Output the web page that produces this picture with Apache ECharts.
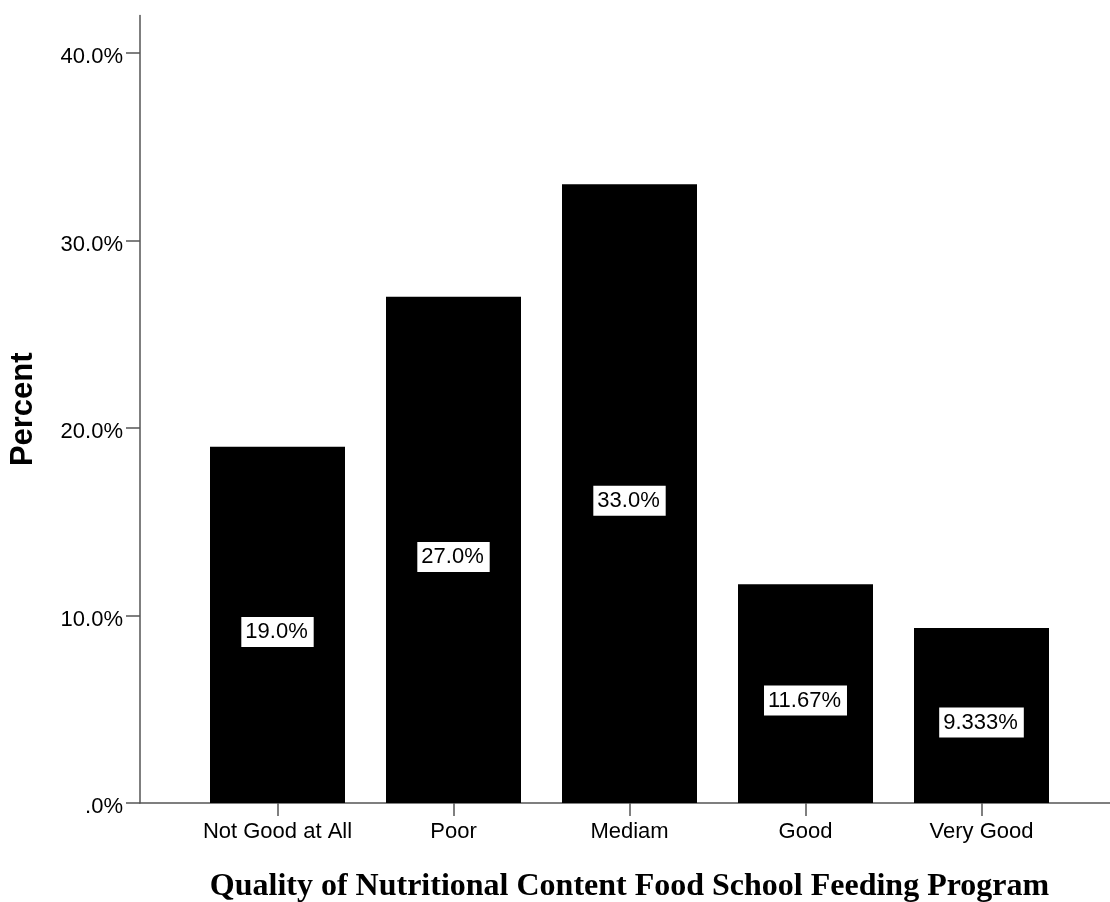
<!DOCTYPE html>
<html><head><meta charset="utf-8">
<script src="https://cdn.jsdelivr.net/npm/echarts@6/dist/echarts.min.js"></script>
<style>html,body{margin:0;padding:0;background:#fff}#c{width:1110px;height:902px}</style>
</head><body><div id="c"></div>
<script>
const categories = ['Not Good at All', 'Poor', 'Mediam', 'Good', 'Very Good'];
const percents = [19.0, 27.0, 33.0, 11.67, 9.333];
const barLabels = ['19.0%', '27.0%', '33.0%', '11.67%', '9.333%'];
const yTicks = [0, 10, 20, 30, 40];
const yTickLabels = ['.0%', '10.0%', '20.0%', '30.0%', '40.0%'];
const xTitle = 'Quality of Nutritional Content Food School Feeding Program';
const yTitle = 'Percent';

const axisColor = '#555';
const font = '"Liberation Sans", Arial, sans-serif';
const chart = echarts.init(document.getElementById('c'), null, {renderer: 'canvas'});
chart.setOption({
  animation: false,
  backgroundColor: '#fff',
  grid: [
    {left: 140, right: 0, top: 15.5, bottom: 99, outerBoundsMode: 'none', containLabel: false},
    {left: 189.5, width: 880, top: 15.5, bottom: 99, outerBoundsMode: 'none', containLabel: false}
  ],
  xAxis: [
    {gridIndex: 0, type: 'value', min: 0, max: 1,
     axisLine: {show: true, lineStyle: {color: axisColor, width: 1.5}},
     axisTick: {show: false}, axisLabel: {show: false}, splitLine: {show: false}},
    {gridIndex: 1, type: 'category', data: categories,
     axisLine: {show: false},
     axisTick: {show: true, interval: 0, alignWithLabel: true, length: 13, lineStyle: {color: axisColor, width: 1.5}},
     axisLabel: {interval: 0, color: '#000', fontSize: 22, fontFamily: font, margin: 18},
     name: xTitle, nameLocation: 'middle', nameGap: 68,
     nameTextStyle: {color: '#000', fontSize: 32, fontWeight: 'bold', fontFamily: '"Liberation Serif", "Times New Roman", serif'}}
  ],
  yAxis: [
    {gridIndex: 0, type: 'value', min: 0, max: 42,
     axisLine: {show: true, lineStyle: {color: axisColor, width: 1.5}},
     axisTick: {show: true, length: 14, customValues: yTicks, lineStyle: {color: axisColor, width: 1.5}},
     axisLabel: {customValues: yTicks, color: '#000', fontSize: 22, fontFamily: font, margin: 17,
       formatter: function (v) { const i = yTicks.indexOf(v); return i >= 0 ? '{t|' + yTickLabels[i] + '}' : ''; },
       rich: {t: {color: '#000', fontSize: 22, fontFamily: font, padding: [8, 0, 0, 0]}}},
     splitLine: {show: false},
     name: yTitle, nameLocation: 'middle', nameGap: 101, nameRotate: 90,
     nameTextStyle: {color: '#000', fontSize: 31, fontWeight: 'bold', fontFamily: font}},
    {gridIndex: 1, type: 'value', min: 0, max: 42, show: false}
  ],
  series: [{
    type: 'bar', xAxisIndex: 1, yAxisIndex: 1,
    data: percents, barWidth: 135,
    itemStyle: {color: '#000'},
    label: {show: true, position: 'inside', offset: [0, 7],
      formatter: function (p) { return barLabels[p.dataIndex]; },
      color: '#000', fontSize: 22, fontFamily: font,
      backgroundColor: '#fff', padding: [5, 6, 3, 4]}
  }]
});
</script></body></html>
